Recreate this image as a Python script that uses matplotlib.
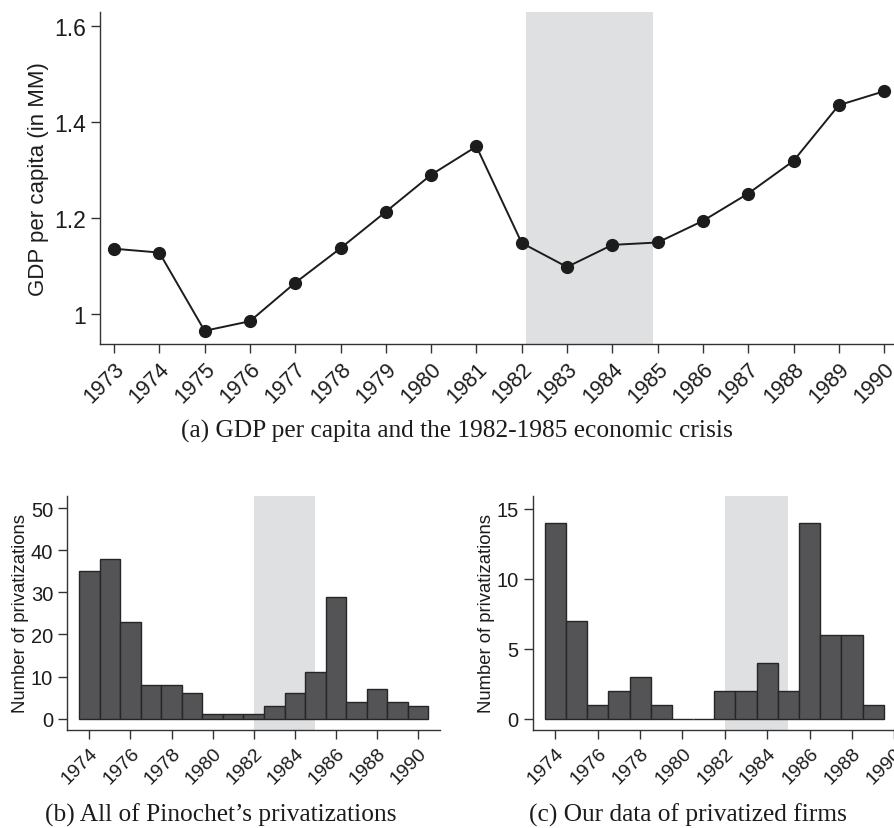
import numpy as np
import matplotlib
matplotlib.use("Agg")
import matplotlib.pyplot as plt

# GDP per capita (in MM), 1973-1990
years = np.arange(1973, 1991)
gdp = [1.136, 1.128, 0.965, 0.985, 1.065, 1.137, 1.213, 1.290, 1.349,
       1.148, 1.098, 1.144, 1.149, 1.194, 1.251, 1.319, 1.435, 1.464]

# all privatizations, 1974-1990
all_years = np.arange(1974, 1991)
all_counts = [35, 38, 23, 8, 8, 6, 1, 1, 1, 3, 6, 11, 29, 4, 7, 4, 3]

# our data of privatized firms, 1974-1989
our_years = np.arange(1974, 1990)
our_counts = [14, 7, 1, 2, 3, 1, 0, 0, 2, 2, 4, 2, 14, 6, 6, 1]

crisis = (1982, 1985)

sans = ['Liberation Sans', 'DejaVu Sans']
serif = ['Liberation Serif', 'DejaVu Serif']
ink = '#1c1c1c'
shade = '#dfe0e2'
barc = '#545457'

fig = plt.figure(figsize=(8.95, 8.29), dpi=100)


def style(ax, xfs, yfs):
    for s in ['top', 'right']:
        ax.spines[s].set_visible(False)
    for s in ['left', 'bottom']:
        ax.spines[s].set_color('#333333')
        ax.spines[s].set_linewidth(1.0)
    ax.tick_params(direction='out', length=6.5, width=1, color='#333333',
                   labelcolor=ink)
    ax.tick_params(axis='x', labelsize=xfs)
    ax.tick_params(axis='y', labelsize=yfs)
    for lab in ax.get_xticklabels() + ax.get_yticklabels():
        lab.set_fontfamily(sans)


# (a) GDP per capita
ax1 = fig.add_axes([0.1117, 0.5838, 0.8883, 0.4005])
ax1.axvspan(crisis[0] + 0.1, crisis[1] - 0.1, color=shade, lw=0)
ax1.plot(years, gdp, color=ink, lw=1.4, marker='o', markersize=8.5)
ax1.set_xlim(1972.69, 1990.24)
ax1.set_ylim(0.9375, 1.629)
ax1.set_xticks(years)
ax1.set_xticklabels([str(y) for y in years], rotation=45, ha='right',
                    rotation_mode='anchor')
ax1.set_yticks([1.0, 1.2, 1.4, 1.6])
ax1.set_yticklabels(['1', '1.2', '1.4', '1.6'])
ax1.set_ylabel('GDP per capita (in MM)', fontsize=16, family=sans, color=ink,
               labelpad=4)
style(ax1, 15.5, 16.5)
fig.text(457 / 895, 1 - 431 / 829, '(a) GDP per capita and the 1982-1985 economic crisis',
         ha='center', va='center', fontsize=18.3, family=serif, color=ink)


def hist(rect, x, counts, ylim, yticks, xlim, caption, cx):
    ax = fig.add_axes(rect)
    ax.axvspan(crisis[0], crisis[1], color=shade, lw=0)
    ax.bar(x, counts, width=1.0, color=barc, edgecolor='#262626', linewidth=1.0)
    ax.set_xlim(*xlim)
    ax.set_ylim(*ylim)
    ax.set_yticks(yticks)
    ticks = np.arange(1974, 1991, 2)
    ax.set_xticks(ticks)
    ax.set_xticklabels([str(t) for t in ticks], rotation=45, ha='right',
                       rotation_mode='anchor')
    ax.set_ylabel('Number of privatizations', fontsize=13.3, family=sans, color=ink,
                  labelpad=1)
    style(ax, 14, 14.5)
    fig.text(cx, 1 - 815 / 829, caption, ha='center', va='center',
             fontsize=18.3, family=serif, color=ink)
    return ax


hist([0.0749, 0.1182, 0.4167, 0.2823], all_years, all_counts,
     (-2.7, 52.9), [0, 10, 20, 30, 40, 50], (1972.91, 1991.07),
     "(b) All of Pinochet\u2019s privatizations", 221 / 895)
hist([0.5952, 0.1182, 0.4048, 0.2823], our_years, our_counts,
     (-0.8, 15.9), [0, 5, 10, 15], (1972.93, 1990.03),
     "(c) Our data of privatized firms", 688 / 895)

fig.savefig('out.png', dpi=100)
